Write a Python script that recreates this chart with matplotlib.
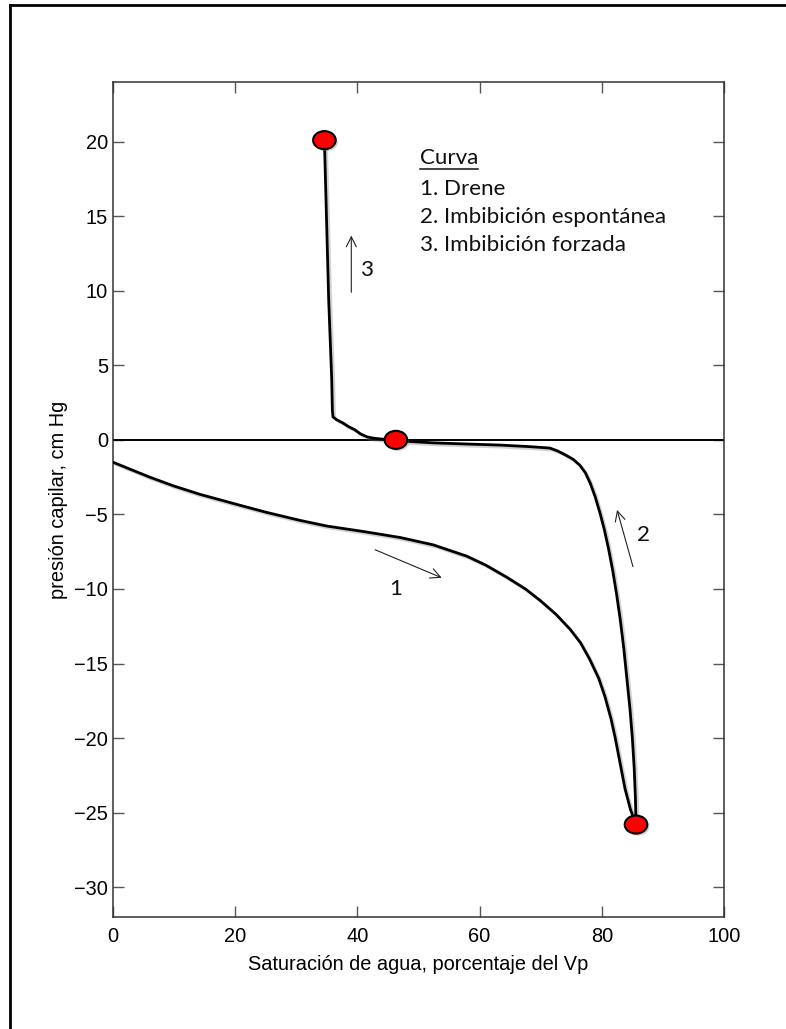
import matplotlib
matplotlib.use('Agg')
import matplotlib.pyplot as plt
from matplotlib.markers import MarkerStyle
from matplotlib.transforms import Affine2D
from matplotlib.lines import Line2D
import matplotlib.patheffects as pe

# ---------------- data ----------------
drain_sw = [0, 3, 6, 10, 14.2, 20, 25, 30.6, 35, 41.5, 47, 52.4, 57.9, 61, 64.4, 67.5, 70, 72.5,
            74.8, 76.5, 78, 79.5, 80.5, 81.5, 82.2, 83, 83.8, 84.7, 85.6]
drain_pc = [-1.5, -2.0, -2.5, -3.1, -3.65, -4.3, -4.85, -5.4, -5.78, -6.18, -6.55, -7.04, -7.8, -8.4,
            -9.2, -10.0, -10.8, -11.7, -12.7, -13.6, -14.7, -16.0, -17.2, -18.7, -20.0, -21.7, -23.4, -24.8, -25.8]

imb_sw = [85.6, 85.5, 85.3, 85.0, 84.6, 84.1, 83.6, 83.0, 82.4, 81.8, 81.1, 80.4, 79.7, 78.9, 78.1,
          77.3, 76.4, 75.3, 74.0, 72.8, 71.5, 68, 63.3, 58, 52.4, 48.1, 46.3]
imb_pc = [-25.8, -24.0, -22.0, -20.0, -18.0, -16.0, -14.0, -12.0, -10.3, -8.8, -7.3, -6.0, -4.9, -3.8, -2.9,
          -2.2, -1.7, -1.3, -1.0, -0.75, -0.55, -0.45, -0.35, -0.28, -0.2, -0.1, 0.0]

forced_sw = [46.3, 44.0, 42.5, 41.6, 40.5, 39.6, 38.5, 37.6, 36.6, 36.0, 35.9, 35.8, 35.3, 34.6]
forced_pc = [0.0, 0.05, 0.12, 0.2, 0.4, 0.67, 0.9, 1.14, 1.35, 1.54, 2.0, 4.0, 9.4, 20.1]

point_sw = [34.6, 46.3, 85.6]
point_pc = [20.1, 0.0, -25.8]

legend_title = "Curva"
legend_items = ["1. Drene", "2. Imbibición espontánea", "3. Imbibición forzada"]

x_ticks = [0, 20, 40, 60, 80, 100]
y_ticks = [-30, -25, -20, -15, -10, -5, 0, 5, 10, 15, 20]

# ---------------- figure ----------------
W, H = 786, 1029
fig = plt.figure(figsize=(W / 100, H / 100), dpi=100)
ax = fig.add_axes([113 / W, 1 - 917 / H, (724 - 113) / W, (917 - 82) / H])

axis_font = 'Liberation Sans'
note_font = ['Lato', 'DejaVu Sans']
fs_axis = 14.4
fs_note = 16.1

shadow = [pe.SimpleLineShadow(offset=(1.5, -1.5), shadow_color='gray', alpha=0.35), pe.Normal()]

ax.axhline(0, color='black', lw=1.4, zorder=2)

for xs, ys in [(drain_sw, drain_pc), (imb_sw, imb_pc), (forced_sw, forced_pc)]:
    ax.plot(xs, ys, color='black', lw=2.0, solid_joinstyle='round',
            solid_capstyle='round', zorder=3, path_effects=shadow)

mk = MarkerStyle('o', transform=Affine2D().scale(1.25, 1.0))
ax.plot(point_sw, point_pc, linestyle='none', marker=mk, markersize=13,
        markerfacecolor='#ff0000', markeredgecolor='black', markeredgewidth=1.5,
        zorder=4, path_effects=[pe.SimplePatchShadow(offset=(1.5, -1.5), shadow_rgbFace='gray', alpha=0.35), pe.Normal()])

# direction arrows
arrows = [((42.9, -7.37), (53.8, -9.25)), ((85.1, -8.5), (82.5, -4.7)), ((39.0, 9.9), (39.0, 13.7))]
for start, end in arrows:
    ax.annotate('', xy=end, xytext=start,
                arrowprops=dict(arrowstyle='->', lw=0.8, color='#222222', mutation_scale=18,
                                shrinkA=0, shrinkB=0))
arrow_labels = [("1", 46.2, -10.0), ("2", 86.9, -6.4), ("3", 41.6, 11.4)]
for s, x, y in arrow_labels:
    ax.text(x, y, s, fontsize=fs_note, family=note_font, ha='center', va='center', color='#111111')

# legend text block
tx = 50.2
title = ax.text(tx, 18.9, legend_title, fontsize=fs_note, family=note_font, ha='left', va='center', color='#111111')
for i, s in enumerate(legend_items):
    ax.text(tx, 16.8 - i * 1.85, s, fontsize=fs_note, family=note_font, ha='left', va='center', color='#111111')

ax.set_xlim(0, 100)
ax.set_ylim(-32, 24)
ax.set_xticks(x_ticks)
ax.set_yticks(y_ticks)
ax.set_xticklabels([str(v) for v in x_ticks], family=axis_font, fontsize=fs_axis)
ax.set_yticklabels([str(v).replace('-', '\u2212') for v in y_ticks], family=axis_font, fontsize=fs_axis)
ax.tick_params(direction='in', length=8, width=1, color='#555555', top=True, right=True)
ax.tick_params(axis='x', pad=7)
ax.tick_params(axis='y', pad=3.5)
for sp in ax.spines.values():
    sp.set_color('#333333')
    sp.set_linewidth(1.1)

ax.set_xlabel("Saturación de agua, porcentaje del Vp", family=axis_font, fontsize=fs_axis, labelpad=7)
ax.set_ylabel("presión capilar, cm Hg", family=axis_font, fontsize=fs_axis, labelpad=4.5)

# underline legend title
fig.canvas.draw()
bb = title.get_window_extent(fig.canvas.get_renderer())
inv = ax.transData.inverted()
x0, _ = inv.transform((bb.x0, bb.y0))
x1, _ = inv.transform((bb.x1, bb.y0))
ax.plot([x0, x1], [18.15, 18.15], color='#111111', lw=1.1, clip_on=False)

# outer frame (cropped: only left and top visible)
fig.add_artist(Line2D([10 / W, 10 / W], [0, 1 - 5 / H], transform=fig.transFigure, color='black', lw=2.0))
fig.add_artist(Line2D([10 / W, 1], [1 - 5 / H, 1 - 5 / H], transform=fig.transFigure, color='black', lw=2.0))

fig.savefig('out.png', dpi=100)
